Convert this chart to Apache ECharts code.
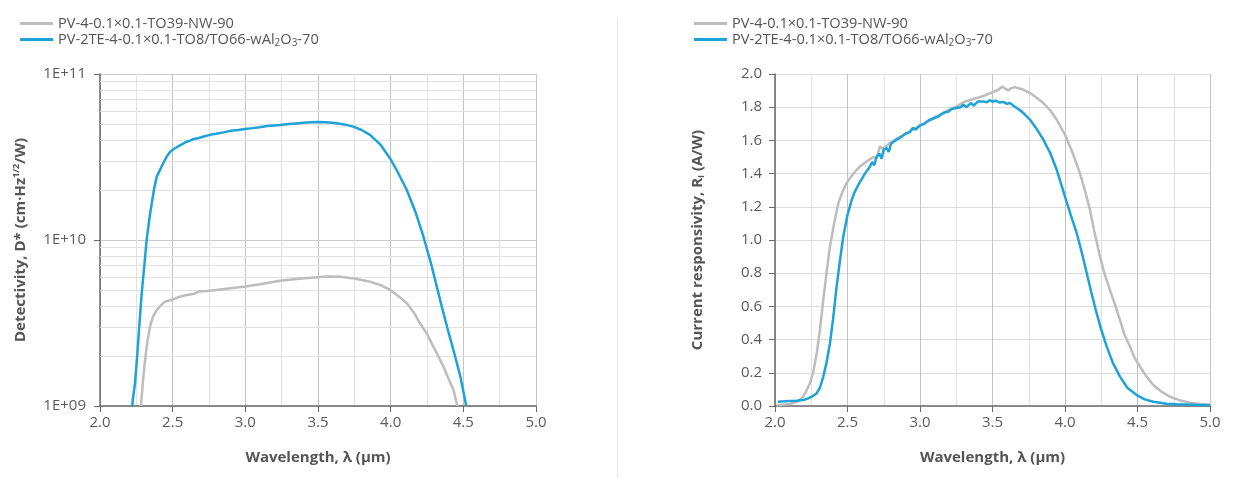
<!DOCTYPE html>
<html>
<head>
<meta charset="utf-8">
<script src="https://cdn.jsdelivr.net/npm/echarts@6/dist/echarts.min.js"></script>
<style>
html,body{margin:0;padding:0;background:#fff;}
#chart{width:1237px;height:478px;}
</style>
</head>
<body>
<div id="chart"></div>
<script>
// ---- Data ----
const seriesNames = ['PV-4-0.1×0.1-TO39-NW-90', 'PV-2TE-4-0.1×0.1-TO8/TO66-wAl2O3-70'];

// Left: Detectivity D* vs wavelength (log scale)
const detGray = [[2.282,1.0e9],[2.295,1.4e9],[2.31,1.89e9],[2.325,2.4e9],[2.344,3.01e9],[2.365,3.45e9],[2.39,3.78e9],[2.42,4.05e9],[2.447,4.25e9],[2.505,4.40e9],[2.55,4.55e9],[2.597,4.67e9],[2.65,4.75e9],[2.68,4.9e9],[2.734,4.93e9],[2.8,5.0e9],[2.9,5.12e9],[3.0,5.24e9],[3.1,5.42e9],[3.239,5.69e9],[3.35,5.82e9],[3.496,5.96e9],[3.56,6.02e9],[3.652,6.01e9],[3.75,5.87e9],[3.858,5.61e9],[3.93,5.35e9],[3.996,5.00e9],[4.05,4.62e9],[4.111,4.16e9],[4.16,3.65e9],[4.202,3.15e9],[4.25,2.72e9],[4.294,2.28e9],[4.33,1.98e9],[4.363,1.73e9],[4.4,1.45e9],[4.432,1.25e9],[4.459,1.0e9]];
const detBlue = [[2.222,1.0e9],[2.226,1.1e9],[2.241,1.37e9],[2.257,2.07e9],[2.27,3.0e9],[2.287,4.78e9],[2.305,7.0e9],[2.321,1.0e10],[2.34,1.35e10],[2.356,1.66e10],[2.373,2.05e10],[2.39,2.40e10],[2.424,2.77e10],[2.459,3.18e10],[2.48,3.38e10],[2.505,3.52e10],[2.55,3.72e10],[2.597,3.91e10],[2.62,3.97e10],[2.64,4.05e10],[2.68,4.12e10],[2.72,4.22e10],[2.757,4.30e10],[2.8,4.36e10],[2.85,4.45e10],[2.9,4.55e10],[2.95,4.6e10],[3.0,4.67e10],[3.05,4.72e10],[3.1,4.78e10],[3.15,4.86e10],[3.2,4.9e10],[3.239,4.93e10],[3.3,4.99e10],[3.35,5.04e10],[3.4,5.08e10],[3.45,5.12e10],[3.496,5.14e10],[3.55,5.12e10],[3.6,5.08e10],[3.629,5.05e10],[3.68,4.97e10],[3.743,4.82e10],[3.8,4.6e10],[3.858,4.30e10],[3.93,3.75e10],[3.996,3.10e10],[4.05,2.55e10],[4.111,2.00e10],[4.17,1.48e10],[4.225,1.05e10],[4.28,7.1e9],[4.34,4.36e9],[4.39,2.95e9],[4.432,2.17e9],[4.48,1.5e9],[4.519,1.01e9]];

// Right: Current responsivity R_I vs wavelength
const respGray = [[2.01,0.005],[2.05,0.008],[2.103,0.012],[2.15,0.025],[2.184,0.046],[2.21,0.08],[2.241,0.137],[2.265,0.21],[2.288,0.318],[2.31,0.46],[2.333,0.639],[2.355,0.80],[2.379,0.961],[2.41,1.11],[2.437,1.222],[2.465,1.29],[2.494,1.343],[2.54,1.40],[2.586,1.443],[2.62,1.465],[2.655,1.487],[2.68,1.50],[2.70,1.49],[2.724,1.565],[2.74,1.55],[2.76,1.56],[2.793,1.584],[2.85,1.615],[2.9,1.64],[2.95,1.665],[3.0,1.69],[3.05,1.715],[3.1,1.74],[3.15,1.76],[3.2,1.785],[3.253,1.805],[3.3,1.83],[3.35,1.845],[3.391,1.855],[3.45,1.872],[3.506,1.892],[3.54,1.905],[3.568,1.925],[3.59,1.91],[3.609,1.901],[3.63,1.915],[3.655,1.921],[3.7,1.91],[3.759,1.885],[3.8,1.86],[3.851,1.825],[3.9,1.78],[3.943,1.724],[4.0,1.634],[4.05,1.53],[4.103,1.403],[4.14,1.29],[4.172,1.182],[4.2,1.06],[4.241,0.9],[4.275,0.79],[4.31,0.699],[4.345,0.61],[4.379,0.519],[4.41,0.43],[4.448,0.358],[4.48,0.29],[4.517,0.237],[4.56,0.18],[4.609,0.127],[4.66,0.09],[4.724,0.056],[4.79,0.035],[4.862,0.02],[4.93,0.012],[5.0,0.006]];
const respBlue = [[2.02,0.026],[2.1,0.03],[2.15,0.032],[2.2,0.038],[2.23,0.046],[2.26,0.06],[2.288,0.077],[2.31,0.11],[2.333,0.177],[2.355,0.26],[2.379,0.378],[2.40,0.52],[2.425,0.719],[2.45,0.89],[2.471,1.021],[2.50,1.15],[2.529,1.242],[2.55,1.29],[2.575,1.333],[2.6,1.37],[2.62,1.40],[2.655,1.443],[2.67,1.47],[2.685,1.45],[2.70,1.50],[2.72,1.52],[2.735,1.49],[2.75,1.545],[2.77,1.554],[2.785,1.53],[2.80,1.58],[2.83,1.60],[2.86,1.615],[2.9,1.64],[2.93,1.65],[2.95,1.675],[2.97,1.665],[3.0,1.69],[3.03,1.70],[3.06,1.72],[3.1,1.735],[3.13,1.745],[3.16,1.765],[3.2,1.775],[3.22,1.79],[3.253,1.795],[3.28,1.80],[3.3,1.815],[3.32,1.80],[3.35,1.825],[3.37,1.81],[3.4,1.835],[3.437,1.835],[3.46,1.83],[3.48,1.842],[3.5,1.833],[3.52,1.84],[3.55,1.828],[3.575,1.832],[3.6,1.82],[3.62,1.825],[3.65,1.805],[3.667,1.795],[3.7,1.775],[3.73,1.75],[3.759,1.724],[3.8,1.675],[3.851,1.604],[3.9,1.52],[3.943,1.423],[4.0,1.262],[4.04,1.15],[4.081,1.041],[4.12,0.91],[4.15,0.8],[4.18,0.69],[4.218,0.559],[4.25,0.46],[4.288,0.358],[4.33,0.26],[4.379,0.177],[4.43,0.11],[4.494,0.066],[4.55,0.04],[4.609,0.026],[4.7,0.014],[4.77,0.01],[4.9,0.007],[5.0,0.006]];

// Axis ranges / tick values
const xRange = [2.0, 5.0];
const xStep = 0.5;
const detRange = [1e9, 1e11];
const detMinorGrid = [2e9,3e9,4e9,5e9,6e9,7e9,8e9,9e9,2e10,3e10,4e10,5e10,6e10,7e10,8e10,9e10];
const respRange = [0, 2.0];
const respStep = 0.2;

// ---- Chart ----
const FONT = 'Open Sans';
const GRAY = '#bdbdbd';
const BLUE = '#1da3d8';
const AXIS = '#6a6a6a';
const TXT = '#5a5a5a';

const chart = echarts.init(document.getElementById('chart'), null, {renderer:'canvas'});

function xAxisCfg(gi){
  return {
    type:'value', gridIndex:gi, min:xRange[0], max:xRange[1], interval:xStep,
    axisLine:{show:true, onZero:false, lineStyle:{color:AXIS, width:1.5}},
    axisTick:{show:true, length:6, lineStyle:{color:AXIS, width:1}},
    axisLabel:{formatter:v=>v.toFixed(1), color:TXT, fontSize:15, fontFamily:FONT, margin:9, showMinLabel:true, showMaxLabel:true},
    splitLine:{show:true, lineStyle:{color:'#c4c4c4', width:1}},
    minorTick:{show:false, splitNumber:2},
    minorSplitLine:{show:true, lineStyle:{color:'#e2e2e2', width:1}},
    name:'Wavelength, λ (µm)', nameLocation:'middle', nameGap:44,
    nameTextStyle:{fontWeight:'bold', fontSize:15, color:'#555', fontFamily:FONT}
  };
}

const legendRich = {sub:{fontSize:10, fontFamily:FONT, color:'#555', verticalAlign:'bottom', padding:[7,0,0,0]}};
function legendFmt(name){
  return name === seriesNames[1] ? 'PV-2TE-4-0.1×0.1-TO8/TO66-wAl{sub|2}O{sub|3}-70' : name;
}
function legendCfg(left){
  return {
    left:left, top:11, orient:'vertical', icon:'rect', itemWidth:33, itemHeight:3, itemGap:1,
    data:seriesNames, formatter:legendFmt,
    textStyle:{fontSize:14.6, color:'#555', fontFamily:FONT, rich:legendRich},
    selectedMode:false
  };
}

const option = {
  animation:false,
  backgroundColor:'#fff',
  textStyle:{fontFamily:FONT},
  legend:[legendCfg(15), legendCfg(689)],
  grid:[
    {left:100, top:74, width:436, height:332},
    {left:775, top:74, width:435, height:332}
  ],
  xAxis:[xAxisCfg(0), xAxisCfg(1)],
  yAxis:[
    {
      type:'log', logBase:10, gridIndex:0, min:detRange[0], max:detRange[1],
      axisLine:{show:true, lineStyle:{color:AXIS, width:1.5}},
      axisTick:{show:true, length:6, lineStyle:{color:AXIS}},
      axisLabel:{formatter:v=>'1E+' + String(Math.round(Math.log10(v))).padStart(2,'0'), color:TXT, fontSize:15, fontFamily:FONT, margin:14},
      splitLine:{show:true, lineStyle:{color:'#cccccc'}},
      name:'Detectivity, D* (cm·Hz{sup|1/2}/W)', nameLocation:'middle', nameGap:71,
      nameTextStyle:{fontWeight:'bold', fontSize:15, color:'#555', fontFamily:FONT,
        rich:{sup:{fontSize:9, fontWeight:'bold', color:'#555', fontFamily:FONT, verticalAlign:'top', padding:[0,0,8,0]}}}
    },
    {
      type:'value', gridIndex:1, min:respRange[0], max:respRange[1], interval:respStep,
      axisLine:{show:true, lineStyle:{color:AXIS, width:1.5}},
      axisTick:{show:true, length:6, lineStyle:{color:AXIS}},
      axisLabel:{formatter:v=>v.toFixed(1), color:TXT, fontSize:15, fontFamily:FONT, margin:13},
      splitLine:{show:true, lineStyle:{color:'#dcdcdc'}},
      name:'Current responsivity, R{sub|I} (A/W)', nameLocation:'middle', nameGap:69,
      nameTextStyle:{fontWeight:'bold', fontSize:15, color:'#555', fontFamily:FONT,
        rich:{sub:{fontSize:9, fontWeight:'bold', color:'#555', fontFamily:FONT, verticalAlign:'bottom', padding:[7,0,0,0]}}}
    }
  ],
  graphic:[{type:'line', shape:{x1:617.5, y1:18, x2:617.5, y2:478}, style:{stroke:'#e6e6e6', lineWidth:1}, silent:true}],
  series:[
    {
      name:seriesNames[0], type:'line', xAxisIndex:0, yAxisIndex:0, data:detGray,
      showSymbol:false, symbol:'none', lineStyle:{color:GRAY, width:2.5}, itemStyle:{color:GRAY}, z:2,
      markLine:{silent:true, symbol:'none', z:1, animation:false, label:{show:false},
        lineStyle:{color:'#e2e2e2', type:'solid', width:1},
        data:detMinorGrid.map(v=>({yAxis:v}))}
    },
    {
      name:seriesNames[1], type:'line', xAxisIndex:0, yAxisIndex:0, data:detBlue,
      showSymbol:false, symbol:'none', lineStyle:{color:BLUE, width:2.5}, itemStyle:{color:BLUE}, z:3
    },
    {
      name:seriesNames[0], type:'line', xAxisIndex:1, yAxisIndex:1, data:respGray,
      showSymbol:false, symbol:'none', lineStyle:{color:GRAY, width:2.5}, itemStyle:{color:GRAY}, z:2
    },
    {
      name:seriesNames[1], type:'line', xAxisIndex:1, yAxisIndex:1, data:respBlue,
      showSymbol:false, symbol:'none', lineStyle:{color:BLUE, width:2.5}, itemStyle:{color:BLUE}, z:3
    }
  ]
};
chart.setOption(option);
</script>
</body>
</html>
